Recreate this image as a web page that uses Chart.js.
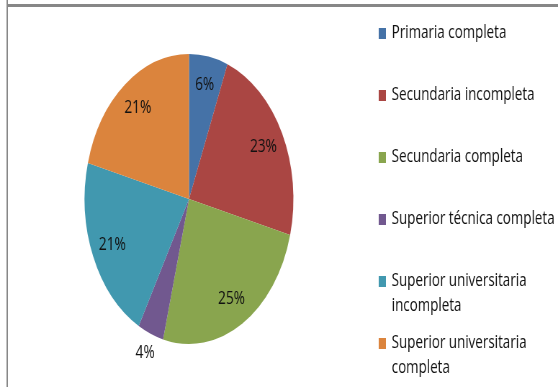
<!DOCTYPE html>
<html>
<head>
<meta charset="utf-8">
<script src="https://cdn.jsdelivr.net/npm/chart.js@4.4.1/dist/chart.umd.min.js"></script>
<style>
  html, body { margin: 0; padding: 0; background: #ffffff; overflow: hidden; }
  #wrap { width: 775px; height: 387px; transform: scaleX(0.72); transform-origin: 0 0; }
  canvas { display: block; }
</style>
</head>
<body>
<div id="wrap"><canvas id="c" width="775" height="387"></canvas></div>
<script>
// Nivel educativo: categories, shares (%) and slice colours
const categories = [
  ['Primaria completa'],
  ['Secundaria incompleta'],
  ['Secundaria completa'],
  ['Superior técnica completa'],
  ['Superior universitaria', 'incompleta'],
  ['Superior universitaria', 'completa']
];
const shares = [6, 23, 25, 4, 21, 21];
const colors = ['#4572A7', '#AA4643', '#89A54E', '#71588F', '#4198AF', '#DB843D'];

const FONT = '"Open Sans", "DejaVu Sans", sans-serif';

// Outer frame: thick top rule and thin left rule
const framePlugin = {
  id: 'frame',
  beforeDraw(chart) {
    const ctx = chart.ctx;
    ctx.save();
    ctx.fillStyle = '#ffffff';
    ctx.fillRect(0, 0, chart.width, chart.height);
    ctx.fillStyle = '#878787';
    ctx.fillRect(9, 4, chart.width - 9, 3);
    ctx.fillRect(9, 0, 2, chart.height);
    ctx.restore();
  }
};

// Percentage labels: inside the slice, or just outside for thin slices
const sliceLabels = {
  id: 'sliceLabels',
  afterDatasetsDraw(chart) {
    const ctx = chart.ctx;
    const meta = chart.getDatasetMeta(0);
    const total = shares.reduce((a, b) => a + b, 0);
    ctx.save();
    ctx.font = '19px ' + FONT;
    ctx.fillStyle = '#111111';
    ctx.textAlign = 'center';
    ctx.textBaseline = 'middle';
    meta.data.forEach((arc, i) => {
      const p = arc.getProps(['x', 'y', 'startAngle', 'endAngle', 'outerRadius'], true);
      const mid = (p.startAngle + p.endAngle) / 2;
      const pct = shares[i] / total * 100;
      const k = pct < 5 ? 1.14 : 0.8;
      const x = p.x + Math.cos(mid) * p.outerRadius * k;
      const y = p.y + Math.sin(mid) * p.outerRadius * k;
      ctx.fillText(Math.round(pct) + '%', x, y);
    });
    ctx.restore();
  }
};

// Legend on the right with wrapped entries
const sideLegend = {
  id: 'sideLegend',
  afterDraw(chart) {
    const ctx = chart.ctx;
    const boxX = 526, textX = 544, firstY = 33, step = 62, lineH = 25, box = 10;
    ctx.save();
    ctx.font = '18.6px ' + FONT;
    ctx.textBaseline = 'middle';
    ctx.textAlign = 'left';
    categories.forEach((lines, i) => {
      const y = firstY + i * step;
      ctx.fillStyle = colors[i];
      ctx.fillRect(boxX, y - box / 2, box, box + 1);
      ctx.fillStyle = '#111111';
      lines.forEach((t, j) => ctx.fillText(t, textX, y + j * lineH));
    });
    ctx.restore();
  }
};

new Chart(document.getElementById('c'), {
  type: 'pie',
  data: {
    labels: categories.map(l => l.join(' ')),
    datasets: [{
      data: shares,
      backgroundColor: colors,
      borderWidth: 0,
      hoverOffset: 0
    }]
  },
  options: {
    responsive: false,
    animation: false,
    devicePixelRatio: 1,
    layout: { padding: { left: 117.5, right: 367.5, top: 54, bottom: 43 } },
    plugins: {
      legend: { display: false },
      tooltip: { enabled: false }
    }
  },
  plugins: [framePlugin, sliceLabels, sideLegend]
});
</script>
</body>
</html>
